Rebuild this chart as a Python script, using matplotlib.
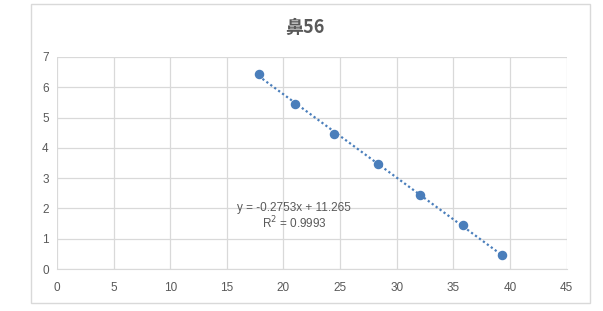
import numpy as np
import matplotlib.pyplot as plt
from matplotlib.patches import Rectangle

# data
x = [17.8, 21.05, 24.5, 28.35, 32.05, 35.9, 39.3]
y = [6.45, 5.45, 4.45, 3.45, 2.45, 1.45, 0.45]
xticks = [0, 5, 10, 15, 20, 25, 30, 35, 40, 45]
yticks = [0, 1, 2, 3, 4, 5, 6, 7]
title = "鼻56"
eq_text = "y = -0.2753x + 11.265\nR$^2$ = 0.9993"

plt.rcParams['font.family'] = ['Liberation Sans', 'Noto Sans CJK SC', 'DejaVu Sans']

blue = '#4A7EBB'
grey_txt = '#595959'
grid_c = '#D9D9D9'

fig = plt.figure(figsize=(6.03, 3.11), dpi=100)
ax = fig.add_axes([0.0945, 0.135, 0.845, 0.682])

# chart area border
fig.patches.append(Rectangle((31 / 603, 1 - 303 / 311), 559 / 603, 299 / 311,
                             transform=fig.transFigure, fill=False,
                             edgecolor=grid_c, linewidth=1))

# trendline
k, b = np.polyfit(x, y, 1)
xs = np.array([min(x), max(x)])
ax.plot(xs, k * xs + b, linestyle=(0, (1, 1.2)), color=blue, linewidth=1.6, zorder=2)
ax.scatter(x, y, s=34, color=blue, zorder=3)

ax.text(20.95, 1.72, eq_text, ha='center', va='center', fontsize=8.5,
        color=grey_txt, linespacing=1.05)

ax.set_xlim(0, 45)
ax.set_ylim(0, 7)
ax.set_xticks(xticks)
ax.set_yticks(yticks)
ax.grid(True, color=grid_c, linewidth=0.9)
ax.set_axisbelow(True)
for s in ['top', 'right', 'left']:
    ax.spines[s].set_visible(False)
ax.spines['bottom'].set_color(grid_c)
ax.tick_params(length=0, labelsize=8.5, colors=grey_txt, pad=6)
ax.tick_params(axis='x', pad=9)

fig.text(0.506, 1 - 27 / 311, title, ha='center', va='center', fontsize=13,
         fontweight='bold', color=grey_txt,
         family=['Noto Sans CJK SC', 'DejaVu Sans'])

fig.savefig('out.png', dpi=100)
